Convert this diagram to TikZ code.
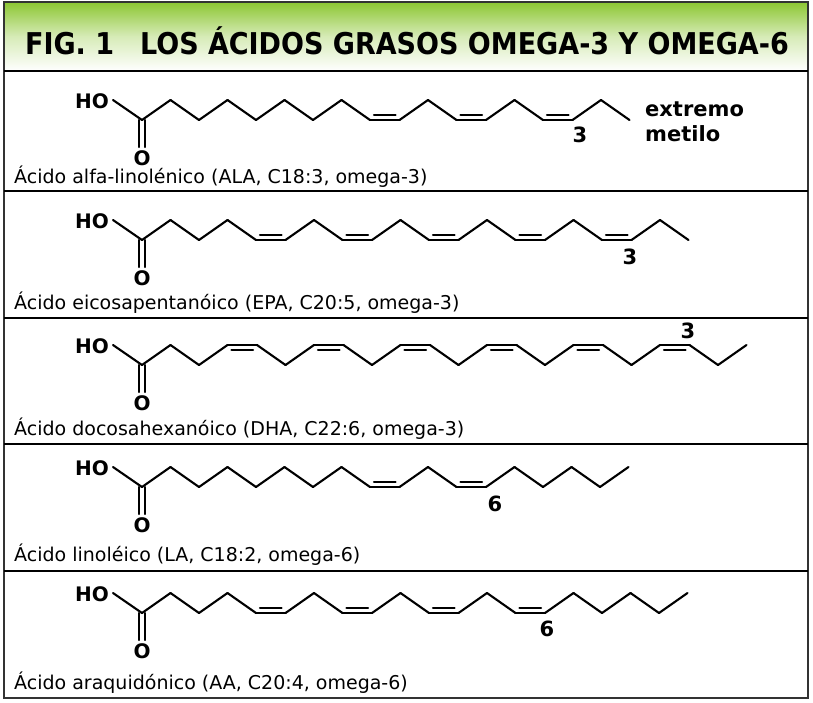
\documentclass[tikz,border=0pt]{standalone}
\usepackage{fontspec}
\setmainfont{DejaVu Sans}
\newfontfamily\titlefont{DejaVu Sans Condensed}
\definecolor{tgreen}{RGB}{140,198,50}
\tikzset{bond/.style={line width=2.1pt,line cap=round,line join=round},
 atom/.style={font=\bfseries\fontsize{20}{20}\selectfont,inner sep=0pt},
 num/.style={font=\bfseries\fontsize{21}{21}\selectfont,inner sep=0pt},
 acname/.style={font=\fontsize{19}{19}\selectfont,inner sep=0pt,anchor=base west}}
\newcommand\chain[3]{%
 \xdef\cx{#1}\xdef\cy{#2}\xdef\lv{0}%
 \foreach \s in {#3}{%
  \if\s U%
   \pgfmathsetmacro\nx{\cx+28.5}\pgfmathsetmacro\ny{\cy-20}%
   \draw[bond] (\cx,\cy) -- (\nx,\ny);
   \xdef\cx{\nx}\xdef\cy{\ny}\xdef\lv{1}%
  \fi
  \if\s D%
   \pgfmathsetmacro\nx{\cx+28.5}\pgfmathsetmacro\ny{\cy+20}%
   \draw[bond] (\cx,\cy) -- (\nx,\ny);
   \xdef\cx{\nx}\xdef\cy{\ny}\xdef\lv{0}%
  \fi
  \if\s H%
   \pgfmathsetmacro\nx{\cx+29.5}%
   \ifnum\lv=0 \pgfmathsetmacro\iy{\cy-5}\else\pgfmathsetmacro\iy{\cy+5}\fi
   \draw[bond] (\cx,\cy) -- (\nx,\cy);
   \draw[bond] (\cx+4,\iy) -- (\nx-4,\iy);
   \xdef\cx{\nx}%
  \fi
 }}
\newcommand\acid[2]{% #1 = y of carbonyl C, #2 list
 \node[atom,anchor=east] at (109,#1-19) {HO};
 \draw[bond] (113,#1-20) -- (142,#1);
 \draw[bond] (139,#1) -- (139,#1+27);
 \draw[bond] (145,#1) -- (145,#1+27);
 \node[atom] at (142,#1+38) {O};
 \chain{142}{#1}{#2}}
\begin{document}
\begin{tikzpicture}[x=1pt,y=-1pt]
\useasboundingbox (0,0) rectangle (813,702);
\fill[white] (0,0) rectangle (813,702);
\shade[top color=tgreen,bottom color=white,middle color=tgreen!35] (4,2) rectangle (808,71);
\node[font=\titlefont\bfseries\fontsize{30}{30}\selectfont,inner sep=0pt] (title) at (407,41) {FIG.~1\hspace{26pt}LOS ÁCIDOS GRASOS OMEGA-3 Y OMEGA-6};
\draw[line width=2pt,black!80] (4,2) rectangle (808,698);
\foreach \yy in {71,191,318,444,571}{\draw[line width=1.2pt] (4,\yy) -- (808,\yy);}
% ALA
\acid{120}{U,D,U,D,U,D,U,D,H,U,D,H,U,D,H,U,D}
\node[num] (n1) at (580,135) {3};
\node[atom,anchor=west,font=\bfseries\fontsize{21}{21}\selectfont] (e1) at (645,109) {extremo};
\node[atom,anchor=west,font=\bfseries\fontsize{21}{21}\selectfont] (e2) at (645,134) {metilo};
\node[acname] (l1) at (14,183) {Ácido alfa-linolénico (ALA, C18:3, omega-3)};
% EPA
\acid{240}{U,D,U,D,H,U,D,H,U,D,H,U,D,H,U,D,H,U,D}
\node[num] (n2) at (630,257) {3};
\node[acname] (l2) at (14,309) {Ácido eicosapentanóico (EPA, C20:5, omega-3)};
% DHA
\acid{365}{U,D,U,H,D,U,H,D,U,H,D,U,H,D,U,H,D,U,H,D,U}
\node[num] (n3) at (688,331) {3};
\node[acname] (l3) at (14,435) {Ácido docosahexanóico (DHA, C22:6, omega-3)};
% LA
\acid{487}{U,D,U,D,U,D,U,D,H,U,D,H,U,D,U,D,U}
\node[num] (n4) at (495,504) {6};
\node[acname] (l4) at (14,561) {Ácido linoléico (LA, C18:2, omega-6)};
% AA
\acid{613}{U,D,U,D,H,U,D,H,U,D,H,U,D,H,U,D,U,D,U}
\node[num] (n5) at (547,629) {6};
\node[acname] (l5) at (14,689) {Ácido araquidónico (AA, C20:4, omega-6)};
\end{tikzpicture}
\end{document}
